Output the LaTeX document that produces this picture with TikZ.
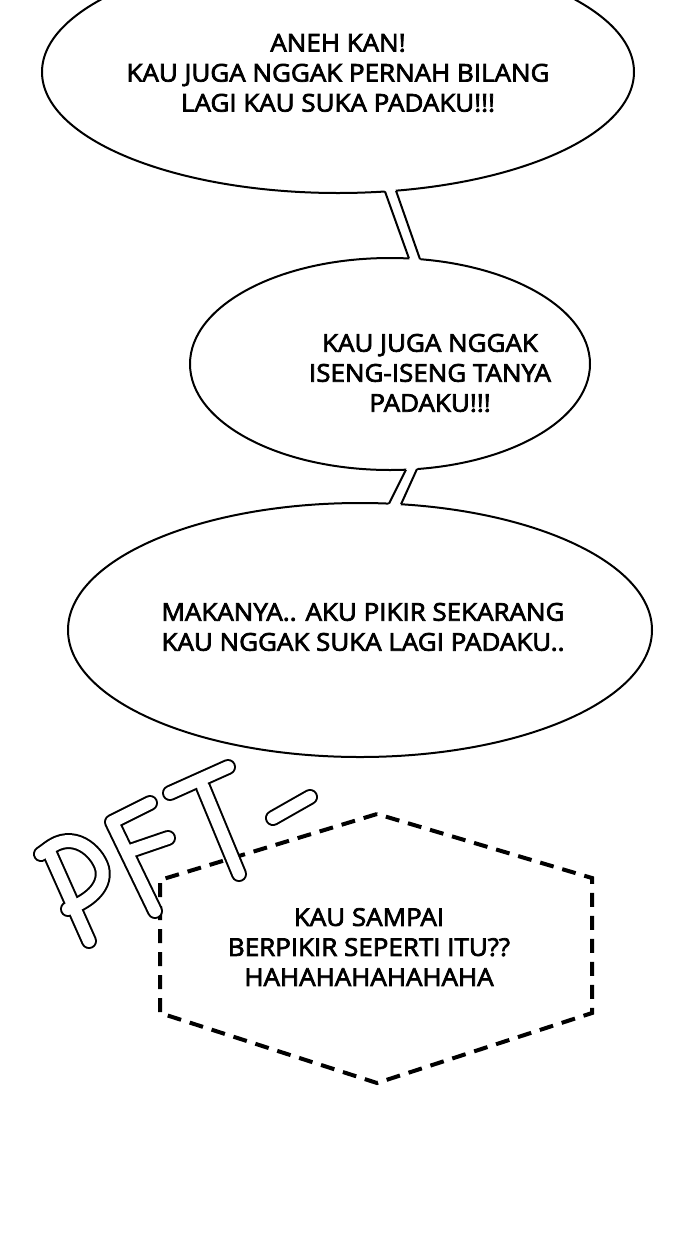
\documentclass[tikz,border=0pt]{standalone}
\usepackage{fontspec}
\setmainfont{Open Sans}
\newfontfamily\talkfont{Open Sans}[FakeBold=3, FakeStretch=1.06]
\usetikzlibrary{shapes.geometric,calc}

\tikzset{
  bubble/.style={draw, ellipse, line width=2pt, fill=white, inner sep=0pt},
  talk/.style={align=center, font=\talkfont\fontsize{24.5}{30}\selectfont},
  tailline/.style={line width=2pt},
  hexline/.style={line width=4pt, dash pattern=on 14pt off 9pt},
  pftout/.style={line width=16pt, line cap=round, line join=round},
  pftin/.style={line width=12pt, white, line cap=round, line join=round},
}

% outlined sound effect, drawn twice (black, then white)
\newcommand\pftletters[1]{
  \draw[#1] (89,-941) -- (48,-849);
  \draw[#1] (41,-854) -- (48,-849) .. controls (73,-829) and (97,-851) .. (102,-868)
    .. controls (106,-884) and (94,-899) .. (68,-909);
  \draw[#1] (155,-911) -- (112,-822) -- (150,-803);
  \draw[#1] (127,-852) -- (168,-838);
  \draw[#1] (170,-793) -- (228,-767);
  \draw[#1] (203,-787) -- (239,-874);
  \draw[#1] (273,-818) -- (310,-797);
}

\begin{document}
\begin{tikzpicture}[x=1pt,y=1pt]
  \useasboundingbox (0,0) rectangle (700,-1240);
  \clip (0,0) rectangle (700,-1240);

  % bubbles
  \node[bubble, minimum width=592pt, minimum height=242pt] (b1) at (338,-72) {};
  \node[bubble, minimum width=400pt, minimum height=212pt] (b2) at (390,-364) {};
  \node[bubble, minimum width=584pt, minimum height=254pt] (b3) at (360,-630) {};

  % tails
  \coordinate (t1a) at (385,-191.5);
  \coordinate (t1b) at (396,-190.7);
  \coordinate (t1c) at (420,-259.2);
  \coordinate (t1d) at (409,-258.5);
  \fill[white] ($(t1a)!-3pt!(t1d)$) -- ($(t1b)!-3pt!(t1c)$)
    -- ($(t1c)!-3pt!(t1b)$) -- ($(t1d)!-3pt!(t1a)$) -- cycle;
  \draw[tailline] (t1a) -- (t1d);
  \draw[tailline] (t1b) -- (t1c);

  \coordinate (t2a) at (406,-469.7);
  \coordinate (t2b) at (417,-469);
  \coordinate (t2c) at (401,-504.3);
  \coordinate (t2d) at (389,-503.6);
  \fill[white] ($(t2a)!-3pt!(t2d)$) -- ($(t2b)!-3pt!(t2c)$)
    -- ($(t2c)!-3pt!(t2b)$) -- ($(t2d)!-3pt!(t2a)$) -- cycle;
  \draw[tailline] (t2a) -- (t2d);
  \draw[tailline] (t2b) -- (t2c);

  % texts
  \node[talk] (s1) at (338,-73) {ANEH KAN!\\KAU JUGA NGGAK PERNAH BILANG\\LAGI KAU SUKA PADAKU!!!};
  \node[talk] (s2) at (430,-373) {KAU JUGA NGGAK\\ISENG-ISENG TANYA\\PADAKU!!!};
  \node[talk] (s3) at (363,-627) {MAKANYA.. AKU PIKIR SEKARANG\\KAU NGGAK SUKA LAGI PADAKU..};

  % dashed box
  \coordinate (h1) at (377,-814);
  \coordinate (h2) at (160,-880);
  \coordinate (h3) at (160,-1013);
  \coordinate (h4) at (377,-1083);
  \coordinate (h5) at (592,-1013);
  \coordinate (h6) at (592,-878);
  \draw[hexline] (h1) -- (h2) -- (h3) -- (h4) -- (h5) -- (h6) -- cycle;
  \node[talk] (s4) at (369,-947) {KAU SAMPAI\\BERPIKIR SEPERTI ITU??\\HAHAHAHAHAHAHA};

  % PFT-
  \pftletters{pftout}
  \pftletters{pftin}
\end{tikzpicture}
\end{document}
